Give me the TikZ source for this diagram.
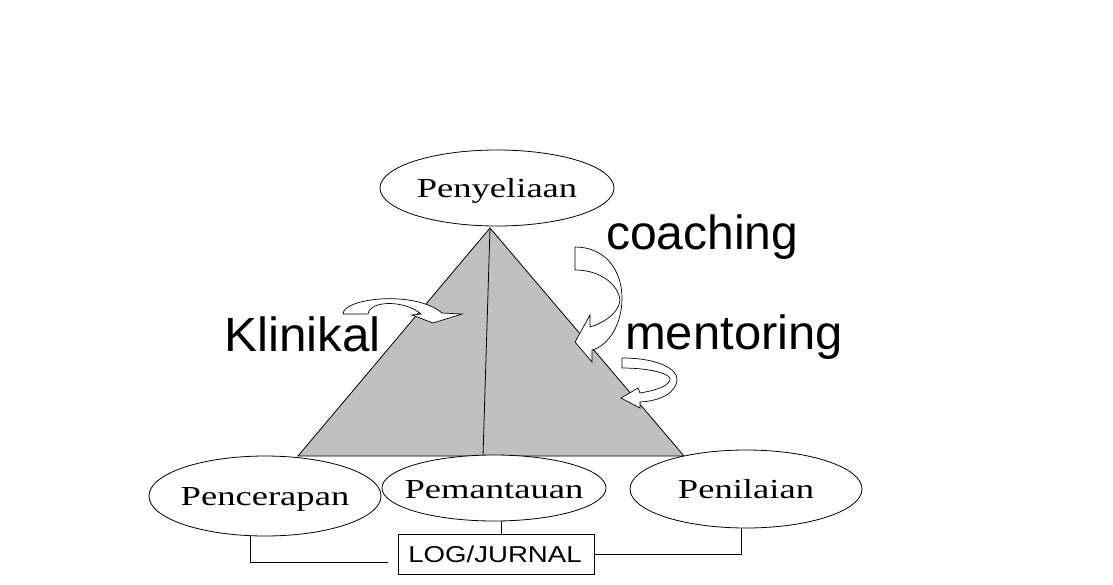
\documentclass[tikz,border=0pt]{standalone}
\usepackage{fontspec}
\setmainfont{Liberation Serif}
\newfontfamily\arialf{Liberation Sans}
\usetikzlibrary{shapes.geometric,calc}
\definecolor{trigray}{RGB}{192,192,192}
\newcommand{\widen}[1]{\scalebox{1.33}[1]{#1}}
\begin{document}
\begin{tikzpicture}[x=1pt,y=-1pt,
  ell/.style={draw,ellipse,line width=0.8pt,fill=white,inner sep=0pt},
  elltext/.style={anchor=base,inner sep=0pt,font={\fontsize{27.5}{30}\selectfont}},
  biglabel/.style={anchor=base west,inner sep=0pt,font={\arialf\fontsize{48}{56}\selectfont}},
  conn/.style={line width=0.8pt},
  curvarrow/.style={draw,fill=white,line width=0.7pt,line join=miter}]
\useasboundingbox (0,0) rectangle (1113,584);
\fill[white] (0,0) rectangle (1113,584);
% triangle
\coordinate (apex) at (490,228);
\coordinate (bl) at (298,456);
\coordinate (br) at (684,456);
\coordinate (bm) at (483,456);
\filldraw[fill=trigray,line width=0.8pt] (apex) -- (bl) -- (br) -- cycle;
\draw[line width=0.8pt] (apex) -- (bm);
% ellipses
\node[ell,minimum width=234pt,minimum height=76pt] (py) at (497,188) {};
\node[ell,minimum width=232pt,minimum height=80pt] (pc) at (265,496) {};
\node[ell,minimum width=224pt,minimum height=66pt] (pm) at (494,488) {};
\node[ell,minimum width=232pt,minimum height=78pt] (pn) at (746,489) {};
\node[elltext] (pyt) at (497,197) {\widen{Penyeliaan}};
\node[elltext] (pct) at (265,505) {\widen{Pencerapan}};
\node[elltext] (pmt) at (494,498) {\widen{Pemantauan}};
\node[elltext] (pnt) at (746,498) {\widen{Penilaian}};
% log box
\node[draw,line width=0.8pt,minimum width=196pt,minimum height=40pt,inner sep=0pt] (log) at (496,554) {};
\node[anchor=base,inner sep=0pt,font={\arialf\fontsize{23}{26}\selectfont}] (logt) at (495,562) {\scalebox{1.2}[1]{LOG/JURNAL}};
\coordinate (lend) at (388,562);
\draw[conn] ($(pc.south)+(-15,-0.6)$) |- (lend);
\draw[conn] (log.east) -| ($(pn.south)+(-5,0)$);
\draw[conn] ($(pm.south)+(7,-0.4)$) -- ($(pm.south |- log.north)+(7,0)$);
% labels
\node[biglabel] (kl) at (224,351) {\scalebox{1.03}[1]{Klinikal}};
\node[biglabel] (co) at (606,249) {coaching};
\node[biglabel] (me) at (625,349) {\scalebox{1.02}[1]{mentoring}};
% curved arrow 1 (Klinikal)
\path[curvarrow] (343,314) .. controls (343,298) and (415,290) .. (442,313)
  -- (462,314) -- (433,323) -- (412,315) -- (421,314)
  .. controls (405,300) and (370,300) .. (368,314) -- cycle;
% curved arrow 2 (coaching)
\path[curvarrow] (575,247) .. controls (605,247) and (622,270) .. (622,298)
  .. controls (622,325) and (608,346) .. (592,350)
  -- (592,362) -- (575,342) -- (590,315) -- (590,327)
  .. controls (606,322) and (619,312) .. (620,300)
  .. controls (618,284) and (600,270) .. (575,270) -- cycle;
% curved arrow 3 (mentoring)
\path[curvarrow] (622,358) .. controls (660,358) and (678,370) .. (677,380)
  .. controls (676,393) and (660,401) .. (640,402)
  -- (640,408) -- (621,398) -- (638,388) -- (640,393)
  .. controls (658,390) and (671,385) .. (670,378)
  .. controls (666,372) and (645,368) .. (622,368) -- cycle;
\end{tikzpicture}
\end{document}
